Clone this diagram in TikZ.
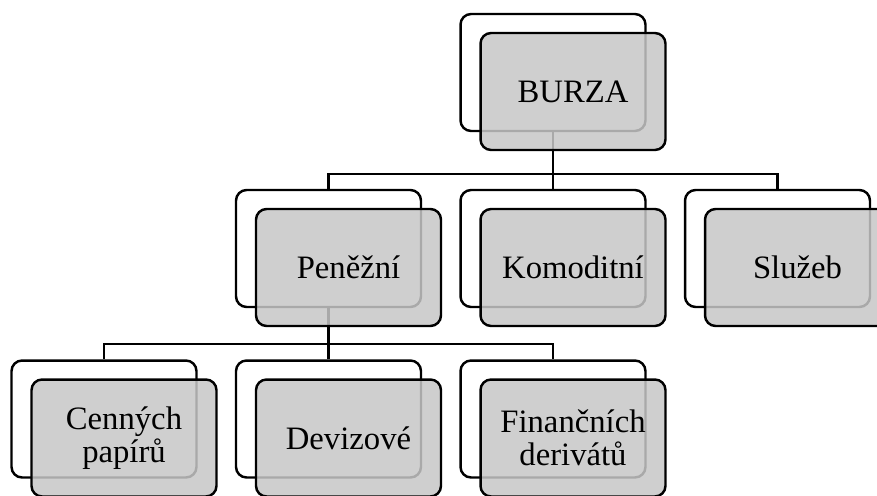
\documentclass[tikz,border=0pt]{standalone}
\usepackage{fontspec}
\setmainfont{Liberation Serif}
\usetikzlibrary{positioning, calc}

\tikzset{
  backbox/.style={draw, line width=1.4pt, rounded corners=6pt, fill=white, minimum width=3.7cm, minimum height=2.34cm, inner sep=0pt},
  frontbox/.style={backbox, fill=black!22, fill opacity=0.85, text opacity=1, align=center, font=\fontsize{18.6}{18.6}\selectfont},
  link/.style={line width=1.4pt}
}

\begin{document}
\begin{tikzpicture}[x=0.02cm, y=0.02cm]
                        \clip (0, 0) rectangle (877, -495);
                        \node[backbox] (burza) at (553, -72.5) {};
                        \node[backbox] (penezni) at (328.5, -248.5) {};
                        \node[backbox] (komoditni) at (553, -248.5) {};
                        \node[backbox] (sluzeb) at (777.5, -248.5) {};
                        \node[backbox] (cenne) at (104, -419) {};
                        \node[backbox] (devizove) at (328.5, -419) {};
                        \node[backbox] (financni) at (553, -419) {};
                        \draw[link]
                        (burza.south) -- ++(0, -42) -| (penezni.north)
                        (burza.south) -- (komoditni.north)
                        (burza.south) -- ++(0, -42) -| (sluzeb.north)
                        (penezni.south) -- ++(0, -36) -| (cenne.north)
                        (penezni.south) -- (devizove.north)
                        (penezni.south) -- ++(0, -36) -| (financni.north);
                        \node[frontbox] (burzaF) at ([shift={(20, -19)}]burza) {BURZA};
                        \node[frontbox] (peneznif) at ([shift={(20, -19)}]penezni) {Peněžní};
                        \node[frontbox] (komoditniF) at ([shift={(20, -19)}]komoditni) {Komoditní};
                        \node[frontbox] (sluzebF) at ([shift={(20, -19)}]sluzeb) {Služeb};
                        \node[frontbox] (cenneF) at ([shift={(20, -19)}]cenne) {Cenných\\papírů};
                        \node[frontbox] (devizoveF) at ([shift={(20, -19)}]devizove) {Devizové};
                        \node[frontbox] (financniF) at ([shift={(20, -19)}]financni) {Finančních\\derivátů};
                    \end{tikzpicture}
\end{document}
